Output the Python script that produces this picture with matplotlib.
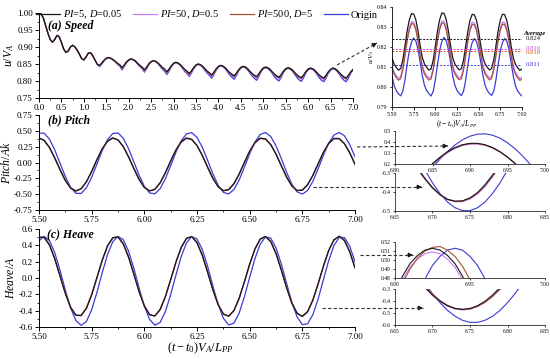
import matplotlib
matplotlib.use("Agg")
import matplotlib.pyplot as plt
from matplotlib.lines import Line2D
from matplotlib.patches import FancyArrowPatch
from matplotlib.ticker import MultipleLocator, FormatStrFormatter
import numpy as np

plt.rcParams['font.family'] = ['Liberation Serif', 'DejaVu Serif']
plt.rcParams['mathtext.fontset'] = 'custom'
plt.rcParams['mathtext.rm'] = 'Liberation Serif'
plt.rcParams['mathtext.it'] = 'Liberation Serif:italic'
plt.rcParams['mathtext.bf'] = 'Liberation Serif:bold'

# ---------------- data ----------------
labels = ["$PI$=5, $D$=0.05", "$PI$=50, $D$=0.5", "$PI$=500, $D$=5", "Origin"]
colors = ['#1a1a1a', '#c77dff', '#a8503a', '#3b3bd6']

# (a) speed, full run, x = 0..7 step 0.05
speed_x = np.round(np.arange(0, 141) * 0.05, 3)
speed_start = [1.000, 0.997, 0.984, 0.962, 0.940, 0.922, 0.914, 0.922, 0.934, 0.930, 0.913, 0.894,
               0.884, 0.888, 0.900, 0.905, 0.900, 0.891, 0.879, 0.866, 0.862, 0.871, 0.882, 0.883,
               0.874, 0.861, 0.849]
speed_black = [0.846, 0.853, 0.861, 0.867, 0.869, 0.867, 0.863, 0.858, 0.852, 0.848,
               0.839, 0.847, 0.856, 0.862, 0.865, 0.863, 0.859, 0.852, 0.846, 0.841,
               0.833, 0.841, 0.851, 0.857, 0.860, 0.858, 0.853, 0.847, 0.840, 0.835,
               0.827, 0.835, 0.845, 0.852, 0.855, 0.853, 0.848, 0.841, 0.834, 0.829,
               0.822, 0.830, 0.840, 0.847, 0.850, 0.848, 0.843, 0.836, 0.829, 0.824,
               0.818, 0.826, 0.836, 0.843, 0.846, 0.844, 0.839, 0.832, 0.825, 0.820,
               0.815, 0.823, 0.833, 0.840, 0.843, 0.841, 0.836, 0.829, 0.822, 0.817,
               0.813, 0.821, 0.831, 0.838, 0.841, 0.839, 0.834, 0.827, 0.820, 0.815,
               0.811, 0.819, 0.829, 0.836, 0.839, 0.837, 0.832, 0.825, 0.818, 0.813,
               0.810, 0.818, 0.828, 0.835, 0.838, 0.836, 0.831, 0.824, 0.817, 0.812,
               0.809, 0.817, 0.827, 0.834, 0.838, 0.836, 0.831, 0.824, 0.817, 0.812,
               0.809, 0.817, 0.827, 0.834]
speed_purple = [0.844, 0.851, 0.860, 0.866, 0.868, 0.866, 0.862, 0.857, 0.850, 0.846,
                0.836, 0.845, 0.855, 0.861, 0.864, 0.862, 0.858, 0.850, 0.844, 0.838,
                0.829, 0.838, 0.849, 0.856, 0.859, 0.857, 0.852, 0.845, 0.837, 0.832,
                0.823, 0.832, 0.843, 0.851, 0.854, 0.852, 0.847, 0.839, 0.831, 0.826,
                0.817, 0.827, 0.838, 0.846, 0.849, 0.847, 0.842, 0.834, 0.826, 0.820,
                0.813, 0.823, 0.834, 0.842, 0.845, 0.843, 0.838, 0.830, 0.822, 0.816,
                0.810, 0.820, 0.831, 0.839, 0.842, 0.840, 0.835, 0.827, 0.819, 0.813,
                0.808, 0.818, 0.829, 0.837, 0.840, 0.838, 0.833, 0.825, 0.817, 0.811,
                0.806, 0.816, 0.827, 0.835, 0.838, 0.836, 0.831, 0.823, 0.815, 0.809,
                0.805, 0.815, 0.826, 0.834, 0.837, 0.835, 0.830, 0.822, 0.814, 0.808,
                0.804, 0.814, 0.825, 0.833, 0.837, 0.835, 0.830, 0.822, 0.814, 0.808,
                0.804, 0.814, 0.825, 0.833]
speed_brown = [0.845, 0.852, 0.861, 0.867, 0.869, 0.867, 0.863, 0.858, 0.851, 0.847,
               0.837, 0.846, 0.856, 0.862, 0.865, 0.863, 0.859, 0.851, 0.845, 0.839,
               0.831, 0.840, 0.850, 0.857, 0.860, 0.858, 0.853, 0.846, 0.839, 0.833,
               0.825, 0.834, 0.844, 0.852, 0.855, 0.853, 0.848, 0.840, 0.833, 0.827,
               0.820, 0.829, 0.839, 0.847, 0.850, 0.848, 0.843, 0.835, 0.828, 0.822,
               0.816, 0.825, 0.835, 0.843, 0.846, 0.844, 0.839, 0.831, 0.824, 0.818,
               0.813, 0.822, 0.832, 0.840, 0.843, 0.841, 0.836, 0.828, 0.821, 0.815,
               0.811, 0.820, 0.830, 0.838, 0.841, 0.839, 0.834, 0.826, 0.819, 0.813,
               0.809, 0.818, 0.828, 0.836, 0.839, 0.837, 0.832, 0.824, 0.817, 0.811,
               0.808, 0.817, 0.827, 0.835, 0.838, 0.836, 0.831, 0.823, 0.816, 0.810,
               0.807, 0.816, 0.826, 0.834, 0.838, 0.836, 0.831, 0.823, 0.816, 0.810,
               0.807, 0.816, 0.826, 0.834]
speed_blue = [0.842, 0.850, 0.859, 0.866, 0.868, 0.866, 0.862, 0.856, 0.849, 0.844,
              0.833, 0.843, 0.854, 0.861, 0.864, 0.862, 0.857, 0.849, 0.842, 0.836,
              0.826, 0.836, 0.848, 0.856, 0.859, 0.857, 0.851, 0.843, 0.835, 0.829,
              0.819, 0.829, 0.842, 0.850, 0.854, 0.851, 0.846, 0.837, 0.828, 0.822,
              0.813, 0.824, 0.836, 0.845, 0.849, 0.846, 0.840, 0.831, 0.823, 0.816,
              0.808, 0.819, 0.832, 0.841, 0.845, 0.842, 0.836, 0.827, 0.818, 0.811,
              0.805, 0.816, 0.829, 0.838, 0.842, 0.839, 0.833, 0.824, 0.815, 0.808,
              0.802, 0.813, 0.827, 0.836, 0.839, 0.837, 0.831, 0.822, 0.812, 0.805,
              0.800, 0.811, 0.825, 0.834, 0.837, 0.835, 0.829, 0.820, 0.810, 0.803,
              0.799, 0.810, 0.824, 0.833, 0.836, 0.834, 0.828, 0.819, 0.809, 0.802,
              0.798, 0.809, 0.823, 0.832, 0.836, 0.834, 0.828, 0.819, 0.809, 0.802,
              0.798, 0.809, 0.823, 0.832]

# speed zoom, x = 5.5..7.0 step 0.025
sz_x = np.round(5.5 + np.arange(61) * 0.025, 4)
sz_black = [0.8145, 0.8114, 0.8097, 0.8084, 0.8092, 0.8136, 0.8207, 0.8281, 0.8336, 0.8367, 0.8365, 0.8336, 0.8280, 0.8207,
            0.8147, 0.8115, 0.8098, 0.8085, 0.8090, 0.8133, 0.8205, 0.8280, 0.8337, 0.8370, 0.8368, 0.8338, 0.8282, 0.8209,
            0.8148, 0.8116, 0.8099, 0.8086, 0.8091, 0.8134, 0.8204, 0.8278, 0.8333, 0.8363, 0.8361, 0.8333, 0.8278, 0.8206,
            0.8146, 0.8115, 0.8098, 0.8085, 0.8093, 0.8137, 0.8208, 0.8282, 0.8335, 0.8364, 0.8362, 0.8332, 0.8276, 0.8204,
            0.8145, 0.8113, 0.8096, 0.8083, 0.8090]
sz_purple = [0.8105, 0.8074, 0.8057, 0.8044, 0.8052, 0.8096, 0.8167, 0.8241, 0.8296, 0.8327, 0.8325, 0.8296, 0.8240, 0.8167,
             0.8107, 0.8075, 0.8058, 0.8045, 0.8050, 0.8093, 0.8165, 0.8240, 0.8297, 0.8330, 0.8328, 0.8298, 0.8242, 0.8169,
             0.8108, 0.8076, 0.8059, 0.8046, 0.8051, 0.8094, 0.8164, 0.8238, 0.8293, 0.8323, 0.8321, 0.8293, 0.8238, 0.8166,
             0.8106, 0.8075, 0.8058, 0.8045, 0.8053, 0.8097, 0.8168, 0.8242, 0.8295, 0.8324, 0.8322, 0.8292, 0.8236, 0.8164,
             0.8105, 0.8073, 0.8056, 0.8043, 0.8050]
sz_brown = [0.8095, 0.8064, 0.8047, 0.8034, 0.8042, 0.8086, 0.8157, 0.8231, 0.8286, 0.8317, 0.8315, 0.8286, 0.8230, 0.8157,
            0.8097, 0.8065, 0.8048, 0.8035, 0.8040, 0.8083, 0.8155, 0.8230, 0.8287, 0.8320, 0.8318, 0.8288, 0.8232, 0.8159,
            0.8098, 0.8066, 0.8049, 0.8036, 0.8041, 0.8084, 0.8154, 0.8228, 0.8283, 0.8313, 0.8311, 0.8283, 0.8228, 0.8156,
            0.8096, 0.8065, 0.8048, 0.8035, 0.8043, 0.8087, 0.8158, 0.8232, 0.8285, 0.8314, 0.8312, 0.8282, 0.8226, 0.8154,
            0.8095, 0.8063, 0.8046, 0.8033, 0.8040]
sz_blue = [0.8054, 0.8006, 0.7981, 0.7966, 0.7956, 0.7979, 0.8037, 0.8114, 0.8182, 0.8225, 0.8245, 0.8230, 0.8189, 0.8124,
           0.8056, 0.8008, 0.7982, 0.7967, 0.7955, 0.7977, 0.8035, 0.8113, 0.8183, 0.8228, 0.8248, 0.8232, 0.8190, 0.8126,
           0.8057, 0.8009, 0.7983, 0.7968, 0.7957, 0.7978, 0.8034, 0.8111, 0.8179, 0.8222, 0.8242, 0.8227, 0.8186, 0.8122,
           0.8055, 0.8007, 0.7982, 0.7967, 0.7958, 0.7980, 0.8038, 0.8115, 0.8181, 0.8223, 0.8243, 0.8228, 0.8187, 0.8121,
           0.8053, 0.8005, 0.7980, 0.7965, 0.7955]
speed_avg = [0.824, 0.819, 0.818, 0.811]
avg_colors = ['#1a1a1a', '#cc44dd', '#cc5522', '#3b3bd6']

# (b) pitch and (c) heave, x = 5.5..7.0 step 0.025
ph_x = np.round(5.5 + np.arange(61) * 0.025, 4)
pitch_black = [0.390, 0.349, 0.234, 0.068, -0.117, -0.286, -0.404, -0.450, -0.414, -0.303, -0.139, 0.047, 0.217,
               0.339, 0.389, 0.358, 0.251, 0.089, -0.096, -0.268, -0.394, -0.449, -0.422, -0.319, -0.160, 0.025,
               0.199, 0.328, 0.388, 0.366, 0.267, 0.110, -0.074, -0.249, -0.382, -0.446, -0.429, -0.335, -0.181,
               0.003, 0.180, 0.316, 0.385, 0.373, 0.282, 0.131, -0.052, -0.230, -0.370, -0.443, -0.436, -0.349,
               -0.201, -0.019, 0.161, 0.303, 0.381, 0.378, 0.296, 0.151, -0.030]
pitch_purple = [0.382, 0.345, 0.236, 0.074, -0.110, -0.280, -0.400, -0.449, -0.418, -0.310, -0.147, 0.040, 0.209,
                0.331, 0.380, 0.356, 0.253, 0.094, -0.089, -0.262, -0.390, -0.448, -0.425, -0.325, -0.168, 0.018,
                0.191, 0.320, 0.379, 0.362, 0.268, 0.115, -0.067, -0.243, -0.378, -0.445, -0.432, -0.341, -0.189,
                -0.005, 0.172, 0.308, 0.376, 0.369, 0.283, 0.136, -0.045, -0.224, -0.366, -0.442, -0.439, -0.355,
                -0.209, -0.027, 0.153, 0.295, 0.372, 0.374, 0.297, 0.156, -0.023]
pitch_brown = [0.387, 0.347, 0.235, 0.071, -0.113, -0.283, -0.402, -0.450, -0.416, -0.306, -0.143, 0.043, 0.213,
               0.335, 0.385, 0.357, 0.252, 0.092, -0.092, -0.265, -0.392, -0.449, -0.424, -0.322, -0.164, 0.021,
               0.195, 0.324, 0.384, 0.364, 0.268, 0.113, -0.070, -0.246, -0.380, -0.446, -0.431, -0.338, -0.185,
               -0.001, 0.176, 0.312, 0.381, 0.371, 0.283, 0.134, -0.048, -0.227, -0.368, -0.443, -0.438, -0.352,
               -0.205, -0.023, 0.157, 0.299, 0.377, 0.376, 0.297, 0.154, -0.026]
pitch_blue = [0.464, 0.462, 0.366, 0.197, -0.013, -0.222, -0.391, -0.487, -0.489, -0.399, -0.234, -0.025, 0.186,
              0.358, 0.458, 0.467, 0.382, 0.220, 0.013, -0.199, -0.375, -0.480, -0.494, -0.414, -0.256, -0.051,
              0.162, 0.341, 0.451, 0.471, 0.396, 0.242, 0.038, -0.175, -0.357, -0.472, -0.497, -0.428, -0.278,
              -0.076, 0.138, 0.323, 0.443, 0.473, 0.410, 0.264, 0.064, -0.151, -0.339, -0.463, -0.499, -0.441,
              -0.299, -0.101, 0.114, 0.304, 0.433, 0.475, 0.422, 0.284, 0.089]
heave_black = [0.499, 0.496, 0.401, 0.231, 0.020, -0.191, -0.361, -0.456, -0.459, -0.369, -0.202, 0.007, 0.219,
               0.393, 0.493, 0.502, 0.416, 0.254, 0.046, -0.168, -0.344, -0.450, -0.464, -0.384, -0.225, -0.018,
               0.196, 0.375, 0.486, 0.506, 0.431, 0.276, 0.071, -0.144, -0.326, -0.442, -0.467, -0.398, -0.247,
               -0.044, 0.171, 0.357, 0.477, 0.508, 0.444, 0.298, 0.097, -0.119, -0.308, -0.433, -0.469, -0.411,
               -0.268, -0.069, 0.147, 0.338, 0.468, 0.510, 0.457, 0.318, 0.122]
heave_purple = [0.495, 0.494, 0.402, 0.235, 0.025, -0.186, -0.358, -0.457, -0.463, -0.375, -0.209, 0.001, 0.213,
                0.389, 0.490, 0.501, 0.419, 0.259, 0.052, -0.162, -0.340, -0.450, -0.468, -0.390, -0.232, -0.025,
                0.190, 0.371, 0.483, 0.505, 0.434, 0.281, 0.077, -0.138, -0.321, -0.441, -0.471, -0.404, -0.254,
                -0.051, 0.165, 0.352, 0.474, 0.507, 0.447, 0.303, 0.103, -0.113, -0.303, -0.431, -0.473, -0.417,
                -0.275, -0.076, 0.141, 0.333, 0.465, 0.509, 0.460, 0.323, 0.128]
heave_brown = [0.502, 0.500, 0.408, 0.240, 0.029, -0.183, -0.355, -0.454, -0.460, -0.373, -0.207, 0.002, 0.214,
               0.389, 0.493, 0.505, 0.422, 0.262, 0.055, -0.160, -0.338, -0.448, -0.465, -0.388, -0.230, -0.023,
               0.191, 0.371, 0.485, 0.509, 0.437, 0.284, 0.080, -0.136, -0.320, -0.440, -0.468, -0.402, -0.252,
               -0.049, 0.166, 0.352, 0.475, 0.511, 0.450, 0.306, 0.106, -0.110, -0.301, -0.429, -0.470, -0.415,
               -0.273, -0.074, 0.142, 0.333, 0.466, 0.513, 0.463, 0.326, 0.131]
heave_blue = [0.457, 0.510, 0.457, 0.308, 0.092, -0.148, -0.367, -0.521, -0.580, -0.533, -0.389, -0.176, 0.064,
              0.285, 0.444, 0.509, 0.469, 0.330, 0.120, -0.120, -0.344, -0.507, -0.578, -0.544, -0.410, -0.203,
              0.036, 0.262, 0.430, 0.507, 0.479, 0.350, 0.147, -0.092, -0.320, -0.492, -0.575, -0.553, -0.430,
              -0.230, 0.008, 0.238, 0.414, 0.503, 0.488, 0.370, 0.174, -0.063, -0.295, -0.476, -0.571, -0.561,
              -0.449, -0.257, -0.021, 0.212, 0.397, 0.498, 0.495, 0.389, 0.200]

# zoomed views
pz1_x = np.round(6.84 + np.arange(16) * 0.01, 3)
pz1_black = [0.139, 0.204, 0.262, 0.311, 0.349, 0.375, 0.388, 0.388, 0.375, 0.349, 0.311, 0.262, 0.204, 0.139, 0.068, -0.006]
pz1_purple = [0.128, 0.194, 0.253, 0.303, 0.342, 0.368, 0.380, 0.381, 0.370, 0.346, 0.310, 0.263, 0.207, 0.144, 0.075, 0.003]
pz1_brown = [0.134, 0.199, 0.258, 0.307, 0.346, 0.373, 0.385, 0.386, 0.374, 0.348, 0.311, 0.263, 0.206, 0.142, 0.072, 0.000]
pz1_blue = [0.085, 0.168, 0.245, 0.314, 0.373, 0.420, 0.453, 0.471, 0.474, 0.462, 0.435, 0.393, 0.339, 0.274, 0.199, 0.118]

pz2_x = np.round(6.67 + np.arange(16) * 0.01, 3)
pz2_black = [-0.212, -0.277, -0.332, -0.379, -0.415, -0.439, -0.449, -0.447, -0.431, -0.403, -0.362, -0.311, -0.252, -0.185, -0.114, -0.040]
pz2_purple = [-0.205, -0.270, -0.327, -0.375, -0.413, -0.439, -0.451, -0.451, -0.437, -0.411, -0.372, -0.322, -0.264, -0.199, -0.130, -0.058]
pz2_brown = [-0.208, -0.273, -0.329, -0.376, -0.413, -0.438, -0.448, -0.447, -0.433, -0.406, -0.366, -0.316, -0.258, -0.192, -0.122, -0.051]
pz2_blue = [-0.126, -0.209, -0.284, -0.352, -0.408, -0.453, -0.483, -0.498, -0.498, -0.483, -0.453, -0.408, -0.352, -0.284, -0.209, -0.126]

hz1_x = np.round(6.90 + np.arange(15) * 0.005, 4)
hz1_black = [0.465, 0.482, 0.496, 0.505, 0.511, 0.513, 0.511, 0.505, 0.496, 0.482, 0.465, 0.445, 0.421, 0.394, 0.365]
hz1_purple = [0.461, 0.478, 0.492, 0.501, 0.507, 0.509, 0.507, 0.501, 0.492, 0.478, 0.461, 0.441, 0.417, 0.390, 0.361]
hz1_brown = [0.457, 0.474, 0.490, 0.502, 0.510, 0.514, 0.515, 0.511, 0.504, 0.493, 0.478, 0.460, 0.438, 0.413, 0.385]
hz1_blue = [0.381, 0.411, 0.437, 0.460, 0.479, 0.494, 0.504, 0.511, 0.513, 0.511, 0.504, 0.494, 0.479, 0.460, 0.437]

hz2_x = np.round(6.68 + np.arange(16) * 0.01, 3)
hz2_black = [-0.216, -0.288, -0.351, -0.402, -0.439, -0.462, -0.470, -0.462, -0.439, -0.402, -0.351, -0.288, -0.216, -0.136, -0.052, 0.035]
hz2_purple = [-0.213, -0.286, -0.351, -0.404, -0.443, -0.467, -0.475, -0.469, -0.447, -0.411, -0.362, -0.300, -0.230, -0.153, -0.073, 0.008]
hz2_brown = [-0.202, -0.276, -0.342, -0.396, -0.436, -0.461, -0.470, -0.465, -0.445, -0.411, -0.363, -0.303, -0.234, -0.158, -0.078, 0.003]
hz2_blue = [-0.162, -0.254, -0.339, -0.414, -0.478, -0.527, -0.561, -0.578, -0.578, -0.561, -0.527, -0.478, -0.414, -0.339, -0.254, -0.162]

# ---------------- figure ----------------
W, H = 550, 359
fig = plt.figure(figsize=(5.5, 3.59), dpi=100)


def px_axes(l, t, r, b):
    return fig.add_axes([l / W, 1 - b / H, (r - l) / W, (b - t) / H])


def style(ax, size=6.5, major=3, minor=1.6, lw=0.7):
    for s in ['top', 'right']:
        ax.spines[s].set_visible(False)
    for s in ['left', 'bottom']:
        ax.spines[s].set_linewidth(lw)
    ax.tick_params(which='major', direction='out', length=major, width=lw, labelsize=size, pad=1.5)
    ax.tick_params(which='minor', direction='out', length=minor, width=lw * 0.8)


lw_main = 0.9
order = [3, 1, 2, 0]  # draw blue first, black last

# (a) speed
ax_s = px_axes(39, 13, 353, 98)
speed_series = [speed_start + speed_black, speed_start + speed_purple, speed_start + speed_brown, speed_start + speed_blue]
handles = [None] * 4
for i in order:
    h, = ax_s.plot(speed_x, speed_series[i], color=colors[i], lw=lw_main)
    handles[i] = h
ax_s.set_xlim(0, 7.0)
ax_s.set_ylim(0.75, 1.0)
ax_s.xaxis.set_major_locator(MultipleLocator(0.5))
ax_s.xaxis.set_minor_locator(MultipleLocator(0.25))
ax_s.yaxis.set_major_locator(MultipleLocator(0.05))
ax_s.yaxis.set_minor_locator(MultipleLocator(0.025))
ax_s.xaxis.set_major_formatter(FormatStrFormatter('%.1f'))
ax_s.yaxis.set_major_formatter(FormatStrFormatter('%.2f'))
style(ax_s)
ax_s.set_ylabel('$u/V_A$', fontsize=8.5, labelpad=1)
ax_s.text(0.03, 0.85, '(a) Speed', transform=ax_s.transAxes, fontsize=8.5, style='italic', weight='bold', va='center')

# (b) pitch
ax_p = px_axes(39, 115, 355, 210)
pitch_series = [pitch_black, pitch_purple, pitch_brown, pitch_blue]
for i in order:
    ax_p.plot(ph_x, pitch_series[i], color=colors[i], lw=lw_main)
ax_p.set_xlim(5.5, 7.0)
ax_p.set_ylim(-0.75, 0.75)
ax_p.xaxis.set_major_locator(MultipleLocator(0.25))
ax_p.xaxis.set_minor_locator(MultipleLocator(0.125))
ax_p.yaxis.set_major_locator(MultipleLocator(0.25))
ax_p.yaxis.set_minor_locator(MultipleLocator(0.125))
ax_p.xaxis.set_major_formatter(FormatStrFormatter('%.2f'))
ax_p.yaxis.set_major_formatter(FormatStrFormatter('%.2f'))
style(ax_p)
ax_p.set_ylabel('$Pitch/Ak$', fontsize=8.5, labelpad=1)
ax_p.text(0.03, 0.945, '(b) Pitch', transform=ax_p.transAxes, fontsize=8.5, style='italic', weight='bold', va='center')

# (c) heave
ax_h = px_axes(39, 229, 355, 327)
heave_series = [heave_black, heave_purple, heave_brown, heave_blue]
for i in order:
    ax_h.plot(ph_x, heave_series[i], color=colors[i], lw=lw_main)
ax_h.set_xlim(5.5, 7.0)
ax_h.set_ylim(-0.6, 0.6)
ax_h.xaxis.set_major_locator(MultipleLocator(0.25))
ax_h.xaxis.set_minor_locator(MultipleLocator(0.125))
ax_h.yaxis.set_major_locator(MultipleLocator(0.2))
ax_h.yaxis.set_minor_locator(MultipleLocator(0.1))
ax_h.xaxis.set_major_formatter(FormatStrFormatter('%.2f'))
ax_h.yaxis.set_major_formatter(FormatStrFormatter('%.1f'))
style(ax_h)
ax_h.set_ylabel('$Heave/A$', fontsize=8.5, labelpad=1)
ax_h.text(0.025, 0.94, '(c) Heave', transform=ax_h.transAxes, fontsize=8.5, style='italic', weight='bold', va='center')

fig.text(200 / W, 1 - 348 / H, '$(t-t_0)V_A/L_{PP}$', fontsize=9, ha='center', va='center')

# speed zoom inset
ax_sz = px_axes(392, 7, 522, 107)
sz_series = [sz_black, sz_purple, sz_brown, sz_blue]
for i in order:
    ax_sz.plot(sz_x, sz_series[i], color=colors[i], lw=0.9)
for v, c in zip(speed_avg, avg_colors):
    ax_sz.axhline(v, color=c, lw=0.7, ls=(0, (2, 1.5)))
ax_sz.set_xlim(5.5, 7.0)
ax_sz.set_ylim(0.79, 0.84)
ax_sz.xaxis.set_major_locator(MultipleLocator(0.25))
ax_sz.yaxis.set_major_locator(MultipleLocator(0.01))
ax_sz.xaxis.set_major_formatter(FormatStrFormatter('%.2f'))
ax_sz.yaxis.set_major_formatter(FormatStrFormatter('%.2f'))
style(ax_sz, size=4.2, major=1.8, lw=0.6)
ax_sz.set_ylabel('$u/V_A$', fontsize=5, labelpad=1)
ax_sz.set_xlabel('$(t-t_0)V_A/L_{PP}$', fontsize=5.5, labelpad=1)
ax_sz.text(7.02, 0.8265, 'Average', fontsize=4.8, style='italic', weight='bold', va='center', clip_on=False)
lab_y = [0.824, 0.8193, 0.8175, 0.811]
for v, c, yy in zip(speed_avg, avg_colors, lab_y):
    ax_sz.text(7.04, yy, '%.3f' % v, fontsize=4.8, color=c, va='center', clip_on=False)

# pitch zoom insets
ax_pz1 = px_axes(395, 131, 545, 164)
for i in order:
    ax_pz1.plot(pz1_x, [pz1_black, pz1_purple, pz1_brown, pz1_blue][i], color=colors[i], lw=0.8)
ax_pz1.set_xlim(6.80, 7.00)
ax_pz1.set_ylim(0.2, 0.5)
ax_pz1.xaxis.set_major_locator(MultipleLocator(0.05))
ax_pz1.yaxis.set_major_locator(MultipleLocator(0.1))
ax_pz1.xaxis.set_major_formatter(FormatStrFormatter('%.2f'))
ax_pz1.yaxis.set_major_formatter(FormatStrFormatter('%.1f'))
style(ax_pz1, size=4.0, major=1.5, lw=0.5)

ax_pz2 = px_axes(395, 173, 545, 211)
for i in order:
    ax_pz2.plot(pz2_x, [pz2_black, pz2_purple, pz2_brown, pz2_blue][i], color=colors[i], lw=0.8)
ax_pz2.set_xlim(6.65, 6.85)
ax_pz2.set_ylim(-0.5, -0.3)
ax_pz2.xaxis.set_major_locator(MultipleLocator(0.05))
ax_pz2.yaxis.set_major_locator(MultipleLocator(0.1))
ax_pz2.xaxis.set_major_formatter(FormatStrFormatter('%.2f'))
ax_pz2.yaxis.set_major_formatter(FormatStrFormatter('%.1f'))
style(ax_pz2, size=4.0, major=1.5, lw=0.5)

# heave zoom insets
ax_hz1 = px_axes(395, 242, 545, 278)
for i in order:
    ax_hz1.plot(hz1_x, [hz1_black, hz1_purple, hz1_brown, hz1_blue][i], color=colors[i], lw=0.8)
ax_hz1.set_xlim(6.90, 7.00)
ax_hz1.set_ylim(0.48, 0.52)
ax_hz1.xaxis.set_major_locator(MultipleLocator(0.05))
ax_hz1.yaxis.set_major_locator(MultipleLocator(0.01))
ax_hz1.xaxis.set_major_formatter(FormatStrFormatter('%.2f'))
ax_hz1.yaxis.set_major_formatter(FormatStrFormatter('%.2f'))
style(ax_hz1, size=4.0, major=1.5, lw=0.5)

ax_hz2 = px_axes(395, 289, 545, 325)
for i in order:
    ax_hz2.plot(hz2_x, [hz2_black, hz2_purple, hz2_brown, hz2_blue][i], color=colors[i], lw=0.8)
ax_hz2.set_xlim(6.65, 6.85)
ax_hz2.set_ylim(-0.6, -0.3)
ax_hz2.xaxis.set_major_locator(MultipleLocator(0.05))
ax_hz2.yaxis.set_major_locator(MultipleLocator(0.1))
ax_hz2.xaxis.set_major_formatter(FormatStrFormatter('%.2f'))
ax_hz2.yaxis.set_major_formatter(FormatStrFormatter('%.1f'))
style(ax_hz2, size=4.0, major=1.5, lw=0.5)


# dashed arrows (pixel coordinates of the figure)
def arrow(x0, y0, x1, y1):
    f = lambda x, y: (x / W, 1 - y / H)
    a, b = f(x0, y0), f(x1, y1)
    fig.add_artist(Line2D([a[0], b[0]], [a[1], b[1]], transform=fig.transFigure,
                          color='#333333', lw=0.8, ls=(0, (3, 2))))
    dx, dy = x1 - x0, y1 - y0
    n = (dx * dx + dy * dy) ** 0.5
    c = f(x1 - dx / n * 6, y1 - dy / n * 6)
    fig.add_artist(FancyArrowPatch(c, b, transform=fig.transFigure, arrowstyle='-|>',
                                   mutation_scale=7, color='#111111', lw=0.6, shrinkA=0, shrinkB=0))


arrow(337, 65, 377, 43)
arrow(357, 147, 448, 146)
arrow(313, 187, 422, 187)
arrow(360, 255, 413, 255)
arrow(322, 308, 423, 308)

# legend
fig.legend(handles, labels, loc='center', bbox_to_anchor=(207 / W, 1 - 15 / H), ncol=4, frameon=False,
           fontsize=7.5, handlelength=2.3, columnspacing=1.0, handletextpad=0.3, borderpad=0)

fig.savefig('out.png', dpi=100)
